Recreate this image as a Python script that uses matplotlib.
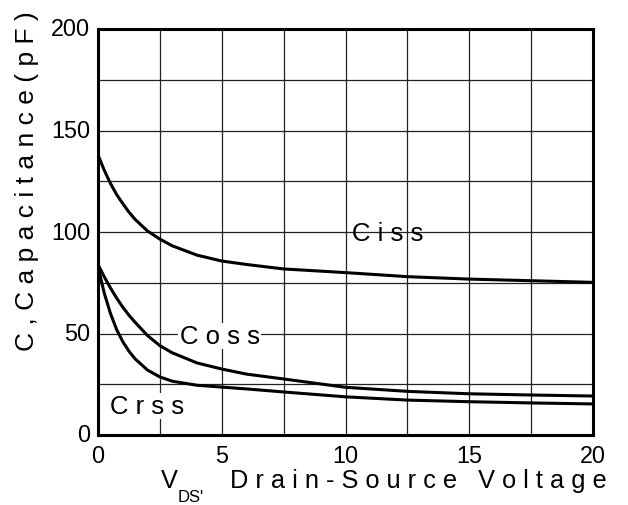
import matplotlib
matplotlib.use("Agg")
import matplotlib.pyplot as plt

# Data
vds = [0, 0.25, 0.5, 0.75, 1, 1.25, 1.5, 2, 2.5, 3, 4, 5, 6, 7.5, 10, 12.5, 15, 17.5, 20]
ciss = [138, 130.5, 124, 118.5, 114, 109.8, 106.2, 100.5, 96.5, 93.2, 88.6, 85.7, 84, 81.8, 80, 78, 76.8, 76, 75.2]
coss = [84, 78, 72.5, 67.5, 63, 59, 55.5, 49, 44, 40.5, 35.5, 32.5, 30, 27.6, 23.5, 21.5, 20.3, 19.7, 19.2]
crss = [83, 70, 60, 52, 46, 41.3, 37.5, 32, 28.6, 26.5, 24.5, 23.6, 22.7, 21.2, 18.8, 17.2, 16.4, 15.8, 15.3]

xticks = [0, 5, 10, 15, 20]
yticks = [0, 50, 100, 150, 200]
labels = ["C i s s", "C o s s", "C r s s"]

plt.rcParams['font.family'] = ['Liberation Sans', 'DejaVu Sans']

fig = plt.figure(figsize=(6.28, 5.06), dpi=100)
ax = fig.add_axes([98/628, 1-436/506, (593-98)/628, (436-30)/506])

ax.set_xlim(0, 20)
ax.set_ylim(0, 200)
ax.set_xticks([i*2.5 for i in range(9)])
ax.set_yticks([i*25 for i in range(9)])
ax.grid(True, color='#222222', linewidth=0.9)
ax.set_axisbelow(True)
ax.tick_params(length=0, labelbottom=False, labelleft=False)

for s in ax.spines.values():
    s.set_linewidth(2.2)
    s.set_color('black')

for series in (ciss, coss, crss):
    ax.plot(vds, series, color='black', linewidth=2.2, solid_capstyle='butt')

# tick labels
for t in xticks:
    ax.text(t, -4.2, str(t), ha='center', va='top', fontsize=16.8, color='black', clip_on=False)
for t in yticks:
    ax.text(-0.32, t, str(t), ha='right', va='center', fontsize=16.8, color='black', clip_on=False)

# curve labels
ax.text(10.25, 99.5, labels[0], ha='left', va='center', fontsize=18.5, color='black')
ax.text(3.3, 48.8, labels[1], ha='left', va='center', fontsize=18.5, color='black',
        bbox=dict(facecolor='white', edgecolor='none', pad=1.0))
ax.text(0.5, 14.3, labels[2], ha='left', va='center', fontsize=18.5, color='black',
        bbox=dict(facecolor='white', edgecolor='none', pad=1.0))

# axis labels
fig.text(27/628, 1-181/506, "C , C a p a c i t a n c e ( p F )", rotation=90,
         ha='center', va='center', fontsize=19, color='black')
fig.text(161/628, 1-488/506, "V", ha='left', va='baseline', fontsize=18.3, color='black')
fig.text(178/628, 1-502/506, "DS'", ha='left', va='baseline', fontsize=12, color='black')
fig.text(230/628, 1-488/506, "D r a i n - S o u r c e   V o l t a g e", ha='left',
         va='baseline', fontsize=18.3, color='black')

fig.savefig("out.png", dpi=100)
